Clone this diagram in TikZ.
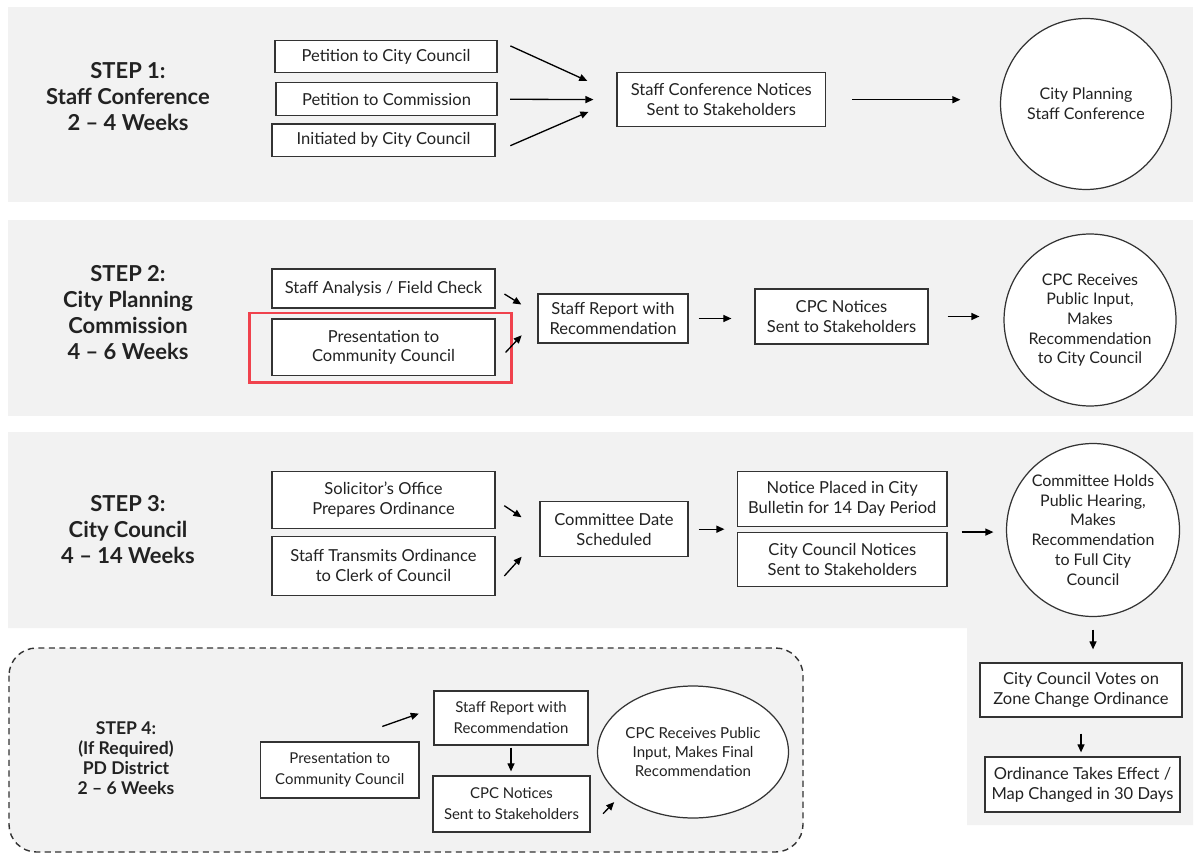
\documentclass[tikz,border=0pt]{standalone}
\usepackage{fontspec}
\setmainfont{Lato}
\usetikzlibrary{arrows.meta, shapes.geometric}
\definecolor{cpanel}{HTML}{F2F2F2}
\definecolor{cline}{HTML}{333333}
\definecolor{ctext}{HTML}{222222}
\definecolor{cred}{HTML}{F0424D}
\tikzset{
  every picture/.style={line width=0.7pt},
  box/.style={draw=cline, fill=white, align=center, inner sep=0pt, text=ctext, font=\fontsize{9.4}{11.3}\selectfont},
  smallbox/.style={box, font=\fontsize{8.5}{12}\selectfont},
  disc/.style={box, circle, font=\fontsize{9.1}{11.2}\selectfont},
  oval/.style={box, ellipse, font=\fontsize{8.6}{10.6}\selectfont},
  arrow/.style={-{Triangle[length=4.6pt, width=4pt]}, draw=black, line width=0.75pt},
  title/.style={font=\bfseries\fontsize{12.5}{14.8}\selectfont, align=center, text=ctext},
  smalltitle/.style={title, font=\bfseries\fontsize{10}{11.3}\selectfont},
  panel/.style={fill=cpanel, draw=none},
}

\begin{document}
\begin{tikzpicture}[x=0.02cm, y=-0.02cm]
  \useasboundingbox (0,0) rectangle (1195,854);
  \fill[white] (0,0) rectangle (1195,854);
  \path[panel] (8,7) rectangle (1193,202);
  \path[panel] (8,220) rectangle (1193,416);
  \path[panel] (8,432) -- (1193,432) -- (1193,825) -- (967,825) -- (967,628) -- (8,628) -- cycle;
  \draw[panel, draw=cline, dash pattern=on 3.5pt off 2.5pt, rounded corners=0.55cm, line width=0.8pt] (9,648) rectangle (803,852);

  \node[title] (t1) at (128,97) {STEP 1:\\Staff Conference\\2 – 4 Weeks};
  \node[box, minimum width=4.44cm, minimum height=0.64cm] (pcc) at (386,56.7) {Petition to City Council};
  \node[box, minimum width=4.42cm, minimum height=0.66cm] (pcm) at (386.5,99.2) {Petition to Commission};
  \node[box, minimum width=4.46cm, minimum height=0.65cm] (ibc) at (383.5,140.3) {Initiated by City Council};
  \node[box, minimum width=4.17cm, minimum height=1.08cm] (scn) at (721.3,99.7) {Staff Conference Notices\\Sent to Stakeholders};
  \node[disc, minimum size=3.42cm] (psc) at (1086,104) {City Planning\\Staff Conference};
  \draw[arrow, shorten <=0.28cm, shorten >=0.64cm] (pcc.north east) -- (scn.177);
  \draw[arrow, shorten <=0.25cm, shorten >=0.46cm] (pcm.east) -- (scn.west);
  \draw[arrow, shorten <=0.32cm, shorten >=0.61cm] (ibc.-6) -- (scn.west);
  \draw[arrow, shorten <=0.52cm, shorten >=0.79cm] (scn.east) -- (scn.east -| psc.west);

  \node[title] (t2) at (128,313) {STEP 2:\\City Planning\\Commission\\4 – 6 Weeks};
  \node[box, minimum width=4.46cm, minimum height=0.78cm] (saf) at (383.5,288.5) {Staff Analysis / Field Check};
  \node[box, minimum width=4.46cm, minimum height=1.13cm] (prs) at (383.5,347.3) {Presentation to\\Community Council};
  \draw[cred, line width=1.7pt] (249.5,313) rectangle (511.5,382.5);
  \node[box, minimum width=3cm, minimum height=0.98cm] (srp) at (613,318.5) {Staff Report with\\Recommendation};
  \node[box, minimum width=3.46cm, minimum height=1.1cm] (cpn) at (841.5,316.5) {CPC Notices\\Sent to Stakeholders};
  \node[disc, minimum size=3.44cm] (cpr) at (1090,320) {CPC Receives\\Public Input,\\Makes\\Recommendation\\to City Council};
  \draw[arrow, shorten <=0.21cm, shorten >=0.38cm] (saf.east) -- (srp.177);
  \draw[arrow, shorten <=0.29cm, shorten >=0.46cm] (prs.-8) -- (srp.west);
  \draw[arrow, shorten <=0.2cm, shorten >=0.46cm] (srp.east) -- (srp.east -| cpn.west);
  \draw[arrow, shorten <=0.38cm, shorten >=0.48cm] (cpn.east) -- (cpn.east -| cpr.west);

  \node[title] (t3) at (128,530) {STEP 3:\\City Council\\4 – 14 Weeks};
  \node[box, minimum width=4.46cm, minimum height=1.13cm] (sol) at (383.5,499.9) {Solicitor’s Office\\Prepares Ordinance};
  \node[box, minimum width=4.46cm, minimum height=1.17cm] (stm) at (383.5,565.9) {Staff Transmits Ordinance\\to Clerk of Council};
  \node[box, minimum width=2.96cm, minimum height=1.1cm] (cds) at (614,529.2) {Committee Date\\Scheduled};
  \node[box, minimum width=4.19cm, minimum height=1.1cm] (npc) at (842.3,499.2) {Notice Placed in City\\Bulletin for 14 Day Period};
  \node[box, minimum width=4.19cm, minimum height=1.08cm] (ccn) at (842.3,559.7) {City Council Notices\\Sent to Stakeholders};
  \node[disc, minimum size=3.46cm] (chh) at (1093,530) {Committee Holds\\Public Hearing,\\Makes\\Recommendation\\to Full City\\Council};
  \node[box, minimum width=4.04cm, minimum height=1.08cm] (vot) at (1081,690) {City Council Votes on\\Zone Change Ordinance};
  \node[box, minimum width=3.9cm, minimum height=1.1cm] (ord) at (1082.5,784.5) {Ordinance Takes Effect /\\Map Changed in 30 Days};
  \draw[arrow, shorten <=0.21cm, shorten >=0.43cm] (sol.east) -- (cds.west);
  \draw[arrow, shorten <=0.26cm, shorten >=0.53cm] (stm.-10) -- (cds.186);
  \draw[arrow, shorten <=0.2cm, shorten >=0.25cm] (cds.east) -- (cds.east -| npc.west);
  \draw[arrow, shorten <=0.28cm, shorten >=0.25cm] (ccn.north east) -- (ccn.north east -| chh.west);
  \draw[arrow, shorten <=0.25cm, shorten >=0.26cm] (chh.south) -- (chh.south |- vot.north);
  \draw[arrow, shorten <=0.32cm, shorten >=0.08cm] (vot.south) -- (vot.south |- ord.north);

  \node[smalltitle] (t4) at (126,758) {STEP 4:\\(If Required)\\PD District\\2 – 6 Weeks};
  \node[smallbox, minimum width=3.17cm, minimum height=1.12cm] (pdp) at (339.8,770) {Presentation to\\Community Council};
  \node[smallbox, minimum width=3.08cm, minimum height=1.08cm] (pds) at (511,718) {Staff Report with\\Recommendation};
  \node[smallbox, minimum width=3.14cm, minimum height=1.12cm] (pdn) at (511.5,804) {CPC Notices\\Sent to Stakeholders};
  \node[oval, minimum width=2.8cm, minimum height=2.64cm] (pdr) at (693,752) {CPC Receives Public\\Input, Makes Final\\Recommendation};
  \draw[arrow, shorten <=0.9cm, shorten >=0.31cm] (pdp.north) -- (pds.173);
  \draw[arrow, shorten <=0.04cm, shorten >=0.08cm] (pds.south) -- (pds.south |- pdn.north);
  \draw[arrow, shorten <=0.36cm, shorten >=0.18cm] (pdn.-16) -- (pdr.211);
\end{tikzpicture}
\end{document}
